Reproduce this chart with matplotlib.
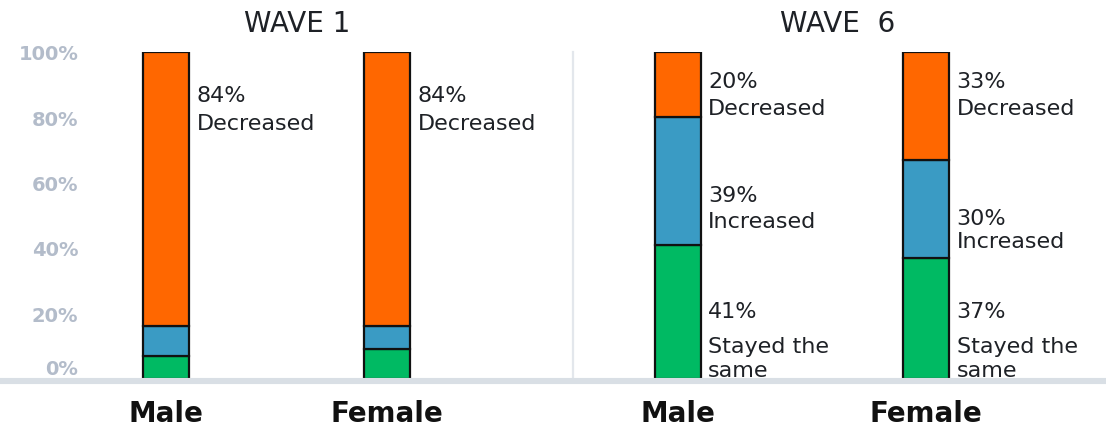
import matplotlib
matplotlib.use("Agg")
import matplotlib.pyplot as plt
from matplotlib.lines import Line2D
import numpy as np

plt.rcParams['font.family'] = ['DejaVu Sans']

# ---- data -------------------------------------------------------------
groups = ["Male", "Female"]
waves = ["WAVE 1", "WAVE  6"]
segments = ["Stayed the same", "Increased", "Decreased"]

wave1_stayed = [7, 9]
wave1_increased = [9, 7]
wave1_decreased = [84, 84]

wave6_stayed = [41, 37]
wave6_increased = [39, 30]
wave6_decreased = [20, 33]

ytick_values = [0, 20, 40, 60, 80, 100]
ytick_labels = ["0%", "20%", "40%", "60%", "80%", "100%"]

# ---- style -------------------------------------------------------------
C_GREEN = "#00BA63"
C_BLUE = "#3A9BC4"
C_ORANGE = "#FF6700"
C_TEXT = "#1E2126"
C_TICK = "#B3BCCA"
C_RULE = "#D9DFE5"
C_DIVIDER = "#E3E7EC"

W, H = 1106, 431
fig = plt.figure(figsize=(W / 100, H / 100), dpi=100)

y0_px, y100_px = 379.5, 53.0
ax_bottom = (H - y0_px) / H
ax_height = (y0_px - y100_px) / H


def make_axes(left_px, right_px, c0_px, c1_px, bar_px):
    step = c1_px - c0_px
    ax = fig.add_axes([left_px / W, ax_bottom, (right_px - left_px) / W, ax_height])
    ax.set_xlim((left_px - c0_px) / step, (right_px - c0_px) / step)
    ax.set_ylim(0, 100)
    for s in ax.spines.values():
        s.set_visible(False)
    ax.set_facecolor("none")
    return ax, bar_px / step


ax1, bw1 = make_axes(95, 573, 166, 387, 46)
ax2, bw2 = make_axes(573, 1106, 677.5, 926, 46)

x = np.arange(len(groups))


def stacked(ax, bw, stayed, increased, decreased):
    stayed = np.array(stayed)
    increased = np.array(increased)
    decreased = np.array(decreased)
    kw = dict(width=bw, edgecolor="#111111", linewidth=1.6, zorder=3)
    ax.bar(x, stayed, color=C_GREEN, **kw)
    ax.bar(x, increased, bottom=stayed, color=C_BLUE, **kw)
    ax.bar(x, decreased, bottom=stayed + increased, color=C_ORANGE, **kw)


stacked(ax1, bw1, wave1_stayed, wave1_increased, wave1_decreased)
stacked(ax2, bw2, wave6_stayed, wave6_increased, wave6_decreased)

# category labels under the bars
for ax in (ax1, ax2):
    ax.set_xticks(x)
    ax.set_xticklabels(groups, fontsize=20, fontweight="bold", color="#111111")
    ax.tick_params(axis="x", length=0, pad=15)
    ax.tick_params(axis="y", length=0)

# y axis on the left panel only
ax1.set_yticks(ytick_values)
ax1.set_yticklabels(ytick_labels, fontsize=14, fontweight="bold", color=C_TICK)
ax1.tick_params(axis="y", pad=12)
ax1.yaxis.get_major_ticks()[0].label1.set_verticalalignment("bottom")
ax2.set_yticks([])

# thin divider between the two waves
ax2.spines["left"].set_visible(True)
ax2.spines["left"].set_color(C_DIVIDER)
ax2.spines["left"].set_linewidth(1.6)

# panel titles
ax1.set_title(waves[0], fontsize=20, color=C_TEXT, pad=0, y=1.0,
              x=(297 - 95) / (573 - 95))
ax2.set_title(waves[1], fontsize=20, color=C_TEXT, pad=0, y=1.0,
              x=(838 - 573) / (1106 - 573))
for t in (ax1.title, ax2.title):
    t.set_position((t.get_position()[0], 1.0 + (53 - 32) / (y0_px - y100_px)))
    t.set_verticalalignment("baseline")

# gray rule along the baseline
rule_y = (H - 382.3) / H
fig.add_artist(Line2D([0, 1], [rule_y, rule_y], transform=fig.transFigure,
                      color=C_RULE, linewidth=4.4, solid_capstyle="butt", zorder=5))


# value labels beside the bars: (text, baseline in px from top)
def px_to_val(py):
    return (y0_px - py) / (y0_px - y100_px) * 100


def label(ax, bw, i, lines):
    for txt, py in lines:
        ax.annotate(txt, xy=(i + bw / 2, px_to_val(py)), xytext=(5.5, 0),
                    textcoords="offset points", ha="left", va="baseline",
                    fontsize=16, color=C_TEXT, annotation_clip=False, zorder=4)


for i in range(len(groups)):
    label(ax1, bw1, i, [(f"{wave1_decreased[i]}%", 102), ("Decreased", 130)])

inc_px = [(201.7, 228.3), (225, 248.3)]
for i in range(len(groups)):
    label(ax2, bw2, i, [(f"{wave6_decreased[i]}%", 88.3), ("Decreased", 115)])
    label(ax2, bw2, i, [(f"{wave6_increased[i]}%", inc_px[i][0]),
                        ("Increased", inc_px[i][1])])
    label(ax2, bw2, i, [(f"{wave6_stayed[i]}%", 318), ("Stayed the", 353),
                        ("same", 377)])

fig.savefig("out.png", dpi=100, facecolor="white")
